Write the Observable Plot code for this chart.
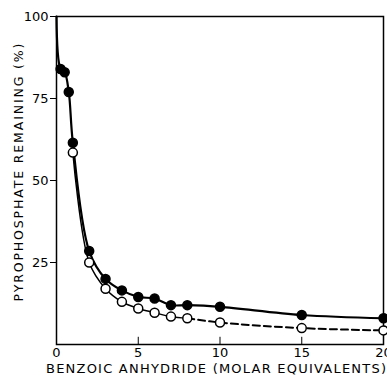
<!DOCTYPE html>
<html>
<head>
<meta charset="utf-8">
<script src="https://cdn.jsdelivr.net/npm/d3@7"></script>
<script src="https://cdn.jsdelivr.net/npm/@observablehq/plot@0.6"></script>
<style>
  html, body { margin: 0; padding: 0; background: #fff; }
</style>
</head>
<body>
<div id="chart"></div>
<script>
// Filled circles series (line starts at 100% at 0 equivalents)
const filledX = [0, 0.25, 0.5, 0.75, 1, 2, 3, 4, 5, 6, 7, 8, 10, 15, 20];
const filledY = [100, 84, 83, 77, 61.5, 28.5, 20, 16.5, 14.5, 14, 12, 12, 11.5, 9, 8];
// Open circles series
const openX = [1, 2, 3, 4, 5, 6, 7, 8, 10, 15, 20];
const openY = [58.5, 25, 17, 13, 11, 9.7, 8.5, 8, 6.7, 5, 4.3];
// Axis ticks
const xTicks = [0, 5, 10, 15, 20];
const xInnerTicks = [5, 10, 15];
const yTicks = [25, 50, 75, 100];
const xLabel = "BENZOIC ANHYDRIDE (MOLAR EQUIVALENTS)";
const yLabel = "PYROPHOSPHATE REMAINING (%)";

const filled = filledX.map((x, i) => ({x, y: filledY[i]}));
const open = openX.map((x, i) => ({x, y: openY[i]}));
const openSolid = open.filter(d => d.x <= 8);
const openDashed = open.filter(d => d.x >= 8);

const chart = Plot.plot({
  width: 387,
  height: 377,
  marginLeft: 56,
  marginRight: 4,
  marginTop: 16,
  marginBottom: 33,
  style: {fontFamily: "DejaVu Sans", fontSize: "12px", color: "#000", background: "#fff"},
  x: {domain: [0, 20]},
  y: {domain: [0, 100]},
  marks: [
    Plot.frame({stroke: "#000", strokeWidth: 1.5}),
    Plot.axisX({ticks: xTicks, tickSize: 0, tickPadding: 3, fontSize: 13, label: null}),
    Plot.ruleX(xInnerTicks, {x: d => d, y1: 0, y2: 2.2, stroke: "#000", strokeWidth: 1}),
    Plot.text([xLabel], {frameAnchor: "bottom", dy: 28, dx: -4, fontSize: 13, text: d => d, className: "xlab"}),
    Plot.axisY({ticks: yTicks, tickSize: 6, tickPadding: 2, fontSize: 13, label: null}),
    Plot.text([yLabel], {frameAnchor: "left", textAnchor: "middle", dx: -38, dy: -8, rotate: -90, fontSize: 12.5, text: d => d, className: "ylab"}),
    Plot.line(openSolid, {x: "x", y: "y", curve: "catmull-rom", stroke: "#000", strokeWidth: 1.5}),
    Plot.line(openDashed, {x: "x", y: "y", curve: "catmull-rom", stroke: "#000", strokeWidth: 2, strokeDasharray: "7,4"}),
    Plot.line(filled, {x: "x", y: "y", curve: "catmull-rom", stroke: "#000", strokeWidth: 2.2}),
    Plot.dot(open, {x: "x", y: "y", r: 4.5, fill: "#fff", stroke: "#000", strokeWidth: 1.5}),
    Plot.dot(filled.filter(d => d.x > 0), {x: "x", y: "y", r: 4.5, fill: "#000", stroke: "#000"})
  ]
});
d3.select(chart).selectAll(".xlab text").attr("textLength", 340).attr("lengthAdjust", "spacing");
d3.select(chart).selectAll(".ylab text").attr("textLength", 258).attr("lengthAdjust", "spacing");
document.getElementById("chart").appendChild(chart);
</script>
</body>
</html>
